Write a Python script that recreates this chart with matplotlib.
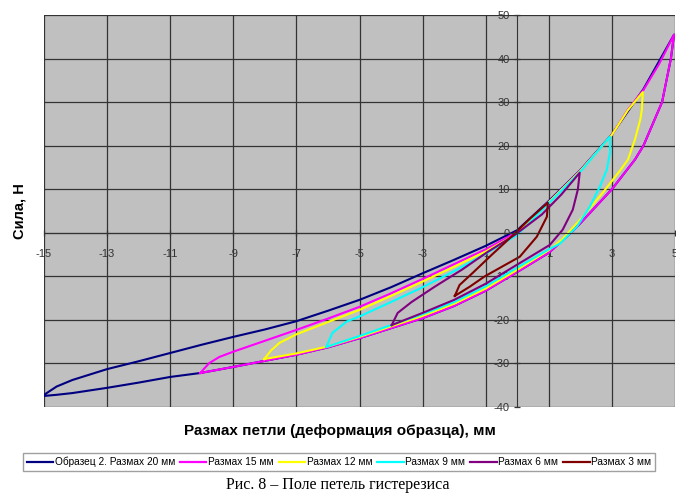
import numpy as np
import matplotlib.pyplot as plt

plt.rcParams['font.family'] = ['Liberation Sans', 'DejaVu Sans']
plt.rcParams['axes.unicode_minus'] = False

# loops: upper branch tip -> peak, then lower branch peak -> tip
navy_x = [-15.06, -14.6, -14.1, -13, -12, -11, -10, -9, -8, -7, -6, -5, -4, -3, -2, -1, 0, 1, 2, 3, 4, 4.97,
          4.87, 4.59, 4.0, 3.73, 3.0, 2.0, 1.7, 1.0, 0, -1, -2, -3, -4, -5, -6, -7, -8, -9, -10.05, -11, -12,
          -13, -14.1, -14.6, -15.06]
navy_y = [-37.5, -35.3, -33.8, -31.3, -29.5, -27.6, -25.7, -23.9, -22.2, -20.3, -17.9, -15.4, -12.5, -9.3,
          -6.2, -3.0, 0.6, 7.3, 14.4, 22.6, 33.0, 45.5,
          40, 30, 20, 16.8, 10, 2.2, 0, -4.6, -9.0, -13.3, -16.8, -19.6, -21.9, -24.2, -26.3, -28.0, -29.4,
          -30.8, -32.2, -33.1, -34.4, -35.6, -36.8, -37.2, -37.5]

magenta_x = [-10.05, -9.76, -9.44, -9, -8, -7, -6, -5, -4, -3, -2, -1, 0, 1, 2, 3, 3.5, 4, 4.5, 4.97,
             4.87, 4.59, 4.0, 3.73, 3.0, 2.0, 1.7, 1.0, 0, -1, -2, -3, -4, -5, -6, -7, -8, -9, -10.05]
magenta_y = [-32.2, -29.9, -28.5, -27.3, -24.8, -22.3, -19.7, -17.0, -13.9, -10.6, -7.2, -3.8, 0.2, 7.1,
             14.3, 22.5, 28.2, 32.8, 38.8, 45.5,
             40, 30, 20, 16.8, 10, 2.2, 0, -4.6, -9.0, -13.3, -16.8, -19.6, -21.9, -24.2, -26.3, -28.0,
             -29.4, -30.8, -32.2]

yellow_x = [-8.02, -7.8, -7.54, -7, -6, -5, -4, -3, -2, -1, 0, 1, 2, 3, 3.5, 3.98,
            3.95, 3.9, 3.73, 3.51, 3.25, 2.71, 2.08, 1.44, 1, 0, -1, -2, -3, -4, -5, -6, -7, -8.02]
yellow_y = [-29.0, -27.0, -25.3, -23.3, -20.5, -17.7, -14.5, -11.2, -7.8, -4.3, -0.2, 7.0, 14.2, 22.5,
            28.1, 32.3,
            28.3, 26.0, 21.4, 16.8, 14.2, 9.2, 3.7, -1.4, -4.0, -8.5, -12.8, -16.3, -19.1, -21.5, -23.9,
            -26.1, -27.7, -29.0]

cyan_x = [-6.05, -5.95, -5.86, -5.41, -5, -4, -3, -2, -1, 0, 1, 2, 2.94,
          2.94, 2.84, 2.62, 2.3, 1.89, 1.35, 1, 0, -1, -2, -3, -4, -5, -6.05]
cyan_y = [-26.2, -24.5, -23.0, -20.4, -19.2, -15.9, -12.5, -8.8, -4.8, -0.5, 6.8, 14.0, 22.1,
          18.4, 14.5, 10.6, 6.0, 1.4, -2.5, -3.8, -8.0, -12.3, -15.9, -18.7, -21.2, -23.7, -26.2]

purple_x = [-3.98, -3.79, -3.35, -2.62, -1.76, -0.94, -0.08, 0.78, 1.4, 1.98,
            1.92, 1.76, 1.44, 1.03, 0, -1, -2, -3, -3.98]
purple_y = [-21.2, -18.4, -15.9, -12.4, -8.5, -4.4, -0.5, 4.2, 8.8, 13.8,
            9.9, 5.3, 0.7, -2.8, -7.3, -11.7, -15.4, -18.4, -21.2]

brown_x = [-1.98, -1.83, -1.41, -0.8, -0.2, 0.4, 0.97,
           0.94, 0.62, 0.08, -1.03, -1.51, -1.98]
brown_y = [-14.5, -12.0, -9.2, -5.0, -1.0, 3.2, 6.9,
           3.7, -0.9, -5.5, -10.0, -12.4, -14.5]

labels = ['Образец 2. Размах 20 мм', 'Размах 15 мм', 'Размах 12 мм',
          'Размах 9 мм', 'Размах 6 мм', 'Размах 3 мм']
colors = ['#000080', '#FF00FF', '#FFFF00', '#00FFFF', '#800080', '#800000']
series = [(navy_x, navy_y), (magenta_x, magenta_y), (yellow_x, yellow_y),
          (cyan_x, cyan_y), (purple_x, purple_y), (brown_x, brown_y)]

x_ticks = np.arange(-15, 6, 2)
y_ticks = np.arange(-40, 51, 10)

fig = plt.figure(figsize=(6.76, 4.98), dpi=100)
ax = fig.add_axes([44 / 676, 1 - 407 / 498, 631 / 676, 392 / 498])
ax.set_facecolor('#C0C0C0')

for (xs, ys), c, lab in zip(series, colors, labels):
    ax.plot(xs, ys, color=c, lw=1.5, label=lab, solid_joinstyle='round')

ax.set_xlim(-15, 5)
ax.set_ylim(-40, 50)
ax.set_xticks(x_ticks)
ax.set_yticks(y_ticks)
ax.grid(True, color='#333333', lw=0.9)
ax.set_axisbelow(True)

for s in ['top', 'right']:
    ax.spines[s].set_visible(False)
ax.spines['left'].set_position(('data', 0))
ax.spines['bottom'].set_position(('data', 0))
ax.spines['left'].set_color('#333333')
ax.spines['bottom'].set_color('#333333')
ax.tick_params(direction='inout', length=5, width=0.9, color='#333333',
               labelsize=8, labelcolor='#333333')
ax.tick_params(axis='x', pad=9)
ax.tick_params(axis='y', pad=3)

fig.text(340 / 676, 1 - 431 / 498, 'Размах петли (деформация образца), мм',
         ha='center', va='center', fontsize=11, fontweight='bold')
fig.text(19 / 676, 1 - 211 / 498, 'Сила, Н', ha='center', va='center',
         rotation=90, fontsize=10.5, fontweight='bold')

leg = fig.legend(loc='center', bbox_to_anchor=(339 / 676, 1 - 462 / 498), ncol=6,
                 fontsize=7.3, frameon=True, fancybox=False, edgecolor='#888888',
                 borderpad=0.35, handlelength=2.6, handletextpad=0.15,
                 columnspacing=0.5, borderaxespad=0)
for ln in leg.get_lines():
    ln.set_linewidth(1.6)

fig.text(338 / 676, 1 - 485 / 498, 'Рис. 8 – Поле петель гистерезиса',
         ha='center', va='center', fontsize=11.5, family='Liberation Serif')

fig.savefig('out.png', dpi=100)
